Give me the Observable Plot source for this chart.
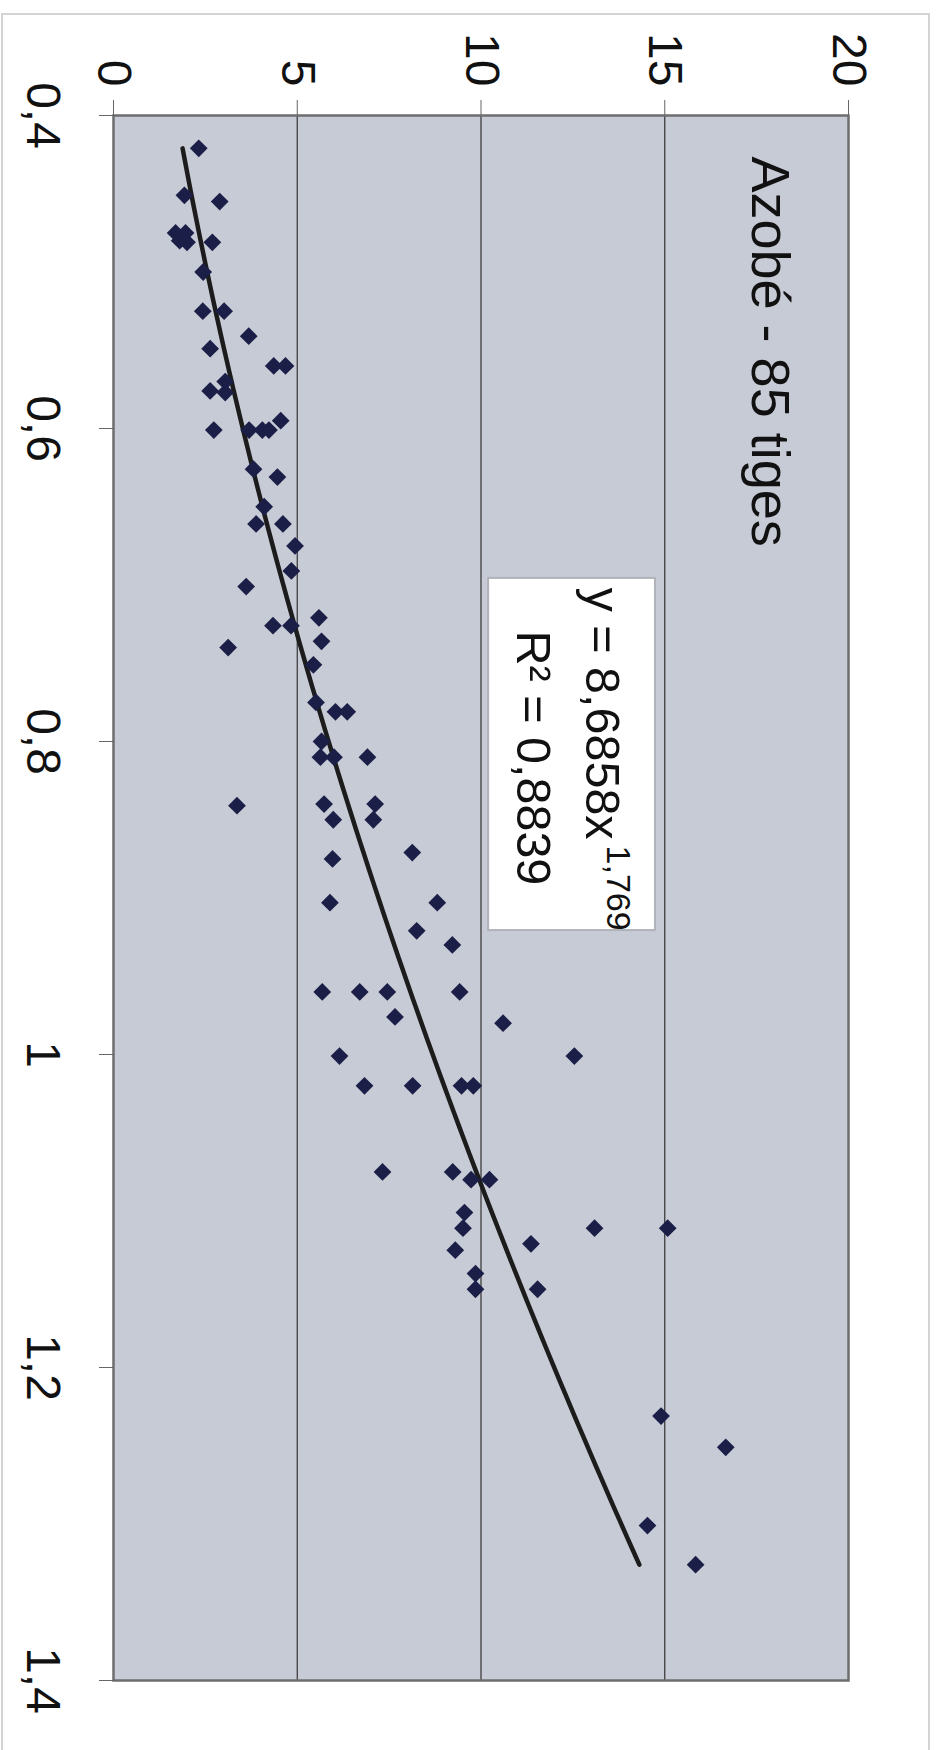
<!DOCTYPE html>
<html>
<head>
<meta charset="utf-8">
<script src="https://cdn.jsdelivr.net/npm/d3@7"></script>
<script src="https://cdn.jsdelivr.net/npm/@observablehq/plot@0.6"></script>
<style>
  html, body { margin: 0; padding: 0; background: #fff; }
  #page { position: relative; width: 943px; height: 1750px; overflow: hidden; background: #fff; }
  #frame { position: absolute; left: 1px; top: 13px; width: 929px; height: 1760px; border: 2px solid #d4d4d4; box-sizing: border-box; }
  #chart { position: absolute; left: 0; top: 0; width: 1750px; height: 943px; transform-origin: 0 0; transform: translate(943px, 0) rotate(90deg); }
</style>
</head>
<body>
<div id="page"><div id="frame"></div><div id="chart"></div></div>
<script>
// Tick values and labels
const xTicks = [0.4, 0.6, 0.8, 1.0, 1.2, 1.4];
const xTickLabels = ["0,4", "0,6", "0,8", "1", "1,2", "1,4"];
const yTicks = [0, 5, 10, 15, 20];
const gridTicks = [5, 10, 15];

// Scatter data
const xValues = [
  0.421, 0.451, 0.455, 0.475, 0.475, 0.480, 0.481, 0.481, 0.500, 0.525,
  0.525, 0.541, 0.549, 0.560, 0.560, 0.570, 0.576, 0.577, 0.601, 0.601,
  0.601, 0.601, 0.595, 0.626, 0.631, 0.650, 0.661, 0.661, 0.675, 0.691,
  0.701, 0.726, 0.726, 0.721, 0.736, 0.740, 0.751, 0.775, 0.781, 0.781,
  0.800, 0.810, 0.810, 0.810, 0.841, 0.840, 0.850, 0.840, 0.850, 0.875,
  0.871, 0.903, 0.903, 0.921, 0.930, 0.960, 0.960, 0.960, 0.960, 0.976,
  0.980, 1.001, 1.001, 1.020, 1.020, 1.020, 1.020, 1.075, 1.075, 1.080,
  1.080, 1.101, 1.111, 1.111, 1.111, 1.121, 1.125, 1.140, 1.150, 1.150,
  1.231, 1.251, 1.301, 1.326
];
const yValues = [
  2.32, 1.93, 2.89, 1.69, 1.96, 1.80, 2.00, 2.69, 2.44, 2.43,
  3.01, 3.68, 2.63, 4.36, 4.68, 3.04, 2.63, 3.04, 2.73, 3.69,
  4.05, 4.23, 4.55, 3.81, 4.46, 4.10, 3.88, 4.61, 4.94, 4.84,
  3.61, 4.34, 4.83, 5.59, 5.66, 3.12, 5.44, 5.51, 6.04, 6.36,
  5.66, 5.63, 6.00, 6.91, 3.36, 5.73, 5.98, 7.12, 7.07, 5.96,
  8.13, 5.89, 8.81, 8.25, 9.22, 5.68, 6.70, 7.45, 9.42, 7.66,
  10.60, 6.15, 12.54, 6.83, 8.14, 9.47, 9.79, 7.32, 9.23, 9.73,
  10.23, 9.55, 9.51, 13.09, 15.08, 11.36, 9.30, 9.85, 9.85, 11.54,
  14.90, 16.66, 14.53, 15.84
];

// Power trendline as printed on the chart: y = 8,6858 x^1,769
const trendCoef = 8.6858;
const trendExp = 1.769;
const titleText = "Azobé - 85 tiges";
const eqLine1 = "y = 8,6858x";
const eqSup = "1,769";
const eqLine2 = "R² = 0,8839";

const points = xValues.map((x, i) => ({x, y: yValues[i]}));
const xMin = d3.min(xValues), xMax = d3.max(xValues);
const trend = d3.range(0, 101).map(i => {
  const x = xMin + (xMax - xMin) * i / 100;
  return {x, y: trendCoef * Math.pow(x, trendExp)};
});

const fmtX = d => xTickLabels[xTicks.findIndex(t => Math.abs(t - d) < 1e-9)];

const chart = Plot.plot({
  width: 1750,
  height: 943,
  marginLeft: 115,
  marginRight: 70,
  marginTop: 94,
  marginBottom: 114,
  x: {domain: [0.4, 1.4]},
  y: {domain: [0, 20]},
  style: {fontFamily: "'Liberation Sans', Arial, sans-serif", color: "#111", background: "transparent", overflow: "visible"},
  marks: [
    Plot.frame({fill: "#c7cbd5", stroke: "none"}),
    Plot.gridY(gridTicks, {stroke: "#333", strokeOpacity: 1, strokeWidth: 1.2}),
    Plot.frame({stroke: "#6e6e6e", strokeWidth: 2.5}),
    Plot.axisX({ticks: xTicks, tickFormat: fmtX, tickSize: 15, tickPadding: 37, fontSize: 48, stroke: "#666", label: null}),
    Plot.axisY({ticks: yTicks, tickSize: 15, tickPadding: 14, fontSize: 48, stroke: "#666", label: null}),
    Plot.text([titleText], {frameAnchor: "top-left", dx: 41, dy: 58, textAnchor: "start", lineAnchor: "top", fontSize: 54, fill: "#111"}),
    Plot.rect([{x1: 0.6958, x2: 0.9208, y1: 10.18, y2: 14.72}], {x1: "x1", x2: "x2", y1: "y1", y2: "y2", fill: "#fff", stroke: "#b0b3ba", strokeWidth: 2}),
    Plot.text([{x: 0.7016, y: 12.87, t: eqLine1}], {x: "x", y: "y", text: "t", textAnchor: "start", lineAnchor: "bottom", fontSize: 48.5, fill: "#111"}),
    Plot.text([{x: 0.8665, y: 13.44, t: eqSup}], {x: "x", y: "y", text: "t", textAnchor: "start", lineAnchor: "bottom", fontSize: 34, fill: "#111"}),
    Plot.text([{x: 0.7291, y: 10.99, t: eqLine2}], {x: "x", y: "y", text: "t", textAnchor: "start", lineAnchor: "bottom", fontSize: 48.5, fill: "#111"}),
    Plot.line(trend, {x: "x", y: "y", stroke: "#1c1c1c", strokeWidth: 4.5}),
    Plot.dot(points, {x: "x", y: "y", symbol: "diamond2", r: 8, fill: "#1b1f48", stroke: "none"})
  ]
});
document.getElementById("chart").appendChild(chart);
</script>
</body>
</html>
